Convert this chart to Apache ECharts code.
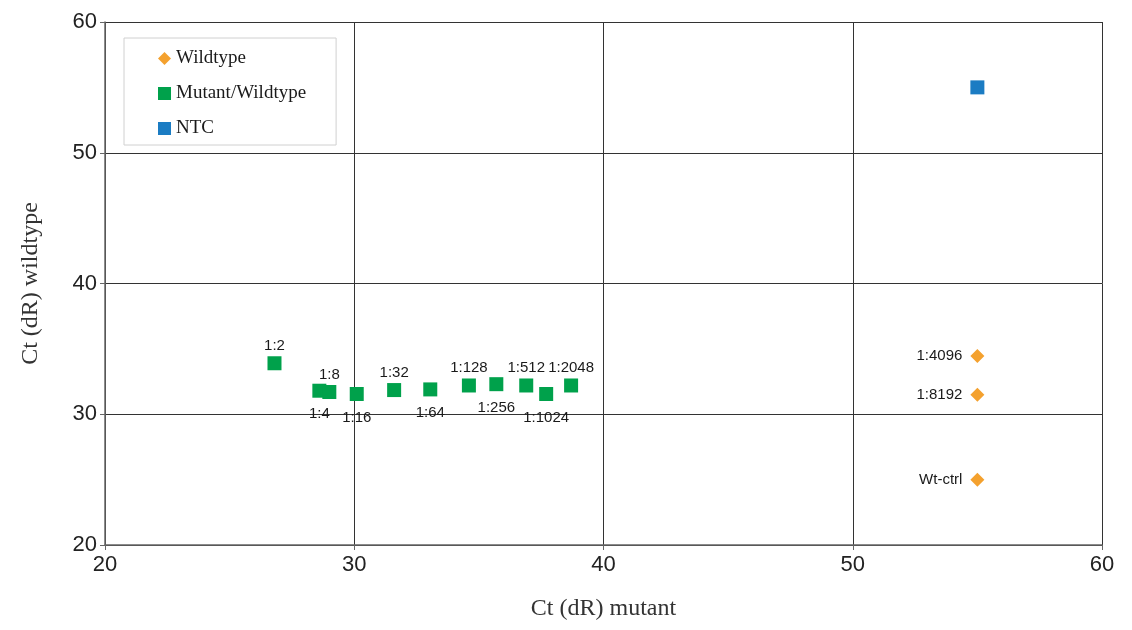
<!DOCTYPE html>
<html>
<head>
<meta charset="utf-8">
<script src="https://cdn.jsdelivr.net/npm/echarts@6/dist/echarts.min.js"></script>
<style>html,body{margin:0;padding:0;background:#fff}#c{width:1132px;height:630px}</style>
</head>
<body>
<div id="c"></div>
<script>
const xTicks = [20, 30, 40, 50, 60];
const yTicks = [20, 30, 40, 50, 60];

const mutantLabels = ['1:2','1:4','1:8','1:16','1:32','1:64','1:128','1:256','1:512','1:1024','1:2048'];
const mutantX = [26.8, 28.6, 29.0, 30.1, 31.6, 33.05, 34.6, 35.7, 36.9, 37.7, 38.7];
const mutantY = [33.9, 31.8, 31.7, 31.55, 31.85, 31.9, 32.2, 32.3, 32.2, 31.55, 32.2];
const mutantLabelPos = ['top','bottom','top','bottom','top','bottom','top','bottom','top','bottom','top'];

const wildLabels = ['1:4096', '1:8192', 'Wt-ctrl'];
const wildX = [55.0, 55.0, 55.0];
const wildY = [34.45, 31.5, 25.0];

const ntcX = [55.0];
const ntcY = [55.0];

const chart = echarts.init(document.getElementById('c'));
const labelStyle = { fontFamily: 'Liberation Sans', fontSize: 15, color: '#1a1a1a', opacity: 1 };

chart.setOption({
  animation: false,
  grid: { left: 105, right: 30, top: 22, bottom: 85 },
  legend: {
    orient: 'vertical',
    left: 124, top: 38,
    padding: [11, 30, 7, 34],
    itemGap: 16,
    itemWidth: 13, itemHeight: 13,
    backgroundColor: '#fff',
    borderColor: '#d0d0d0', borderWidth: 1,
    textStyle: { fontFamily: 'Liberation Serif', fontSize: 19, color: '#1a1a1a' },
    data: [
      { name: 'Wildtype', icon: 'diamond' },
      { name: 'Mutant/Wildtype', icon: 'rect' },
      { name: 'NTC', icon: 'rect' }
    ]
  },
  xAxis: {
    type: 'value', min: 20, max: 60, interval: 10,
    name: 'Ct (dR) mutant', nameLocation: 'middle', nameGap: 52,
    nameTextStyle: { fontFamily: 'Liberation Serif', fontSize: 24, color: '#333' },
    axisLine: { show: true, lineStyle: { color: '#666', width: 1.5 } },
    axisTick: { show: true, length: 5, lineStyle: { color: '#666' } },
    axisLabel: { fontFamily: 'Liberation Sans', fontSize: 22, color: '#222', margin: 9,
      formatter: v => xTicks.includes(v) ? String(v) : '' },
    splitLine: { show: true, lineStyle: { color: '#333', width: 1 } }
  },
  yAxis: {
    type: 'value', min: 20, max: 60, interval: 10,
    name: 'Ct (dR) wildtype', nameLocation: 'middle', nameGap: 62,
    nameTextStyle: { fontFamily: 'Liberation Serif', fontSize: 24, color: '#333' },
    axisLine: { show: true, lineStyle: { color: '#666', width: 1.5 } },
    axisTick: { show: true, length: 5, lineStyle: { color: '#666' } },
    axisLabel: { fontFamily: 'Liberation Sans', fontSize: 22, color: '#222', margin: 8,
      formatter: v => yTicks.includes(v) ? String(v) : '' },
    splitLine: { show: true, lineStyle: { color: '#333', width: 1 } }
  },
  series: [
    {
      name: 'Wildtype', type: 'scatter', symbol: 'diamond', symbolSize: 14,
      itemStyle: { color: '#F4A12E', opacity: 1 },
      data: wildX.map((x, i) => ({ value: [x, wildY[i]], label: { show: true, position: 'left', formatter: wildLabels[i], distance: 8, ...labelStyle } }))
    },
    {
      name: 'Mutant/Wildtype', type: 'scatter', symbol: 'rect', symbolSize: 14,
      itemStyle: { color: '#00A14B', opacity: 1 },
      data: mutantX.map((x, i) => ({ value: [x, mutantY[i]], label: { show: true, position: mutantLabelPos[i], formatter: mutantLabels[i], distance: mutantLabelPos[i] === 'top' ? 3 : 9, ...labelStyle } }))
    },
    {
      name: 'NTC', type: 'scatter', symbol: 'rect', symbolSize: 14,
      itemStyle: { color: '#1B7CC3', opacity: 1 },
      data: ntcX.map((x, i) => [x, ntcY[i]])
    }
  ]
});
</script>
</body>
</html>
